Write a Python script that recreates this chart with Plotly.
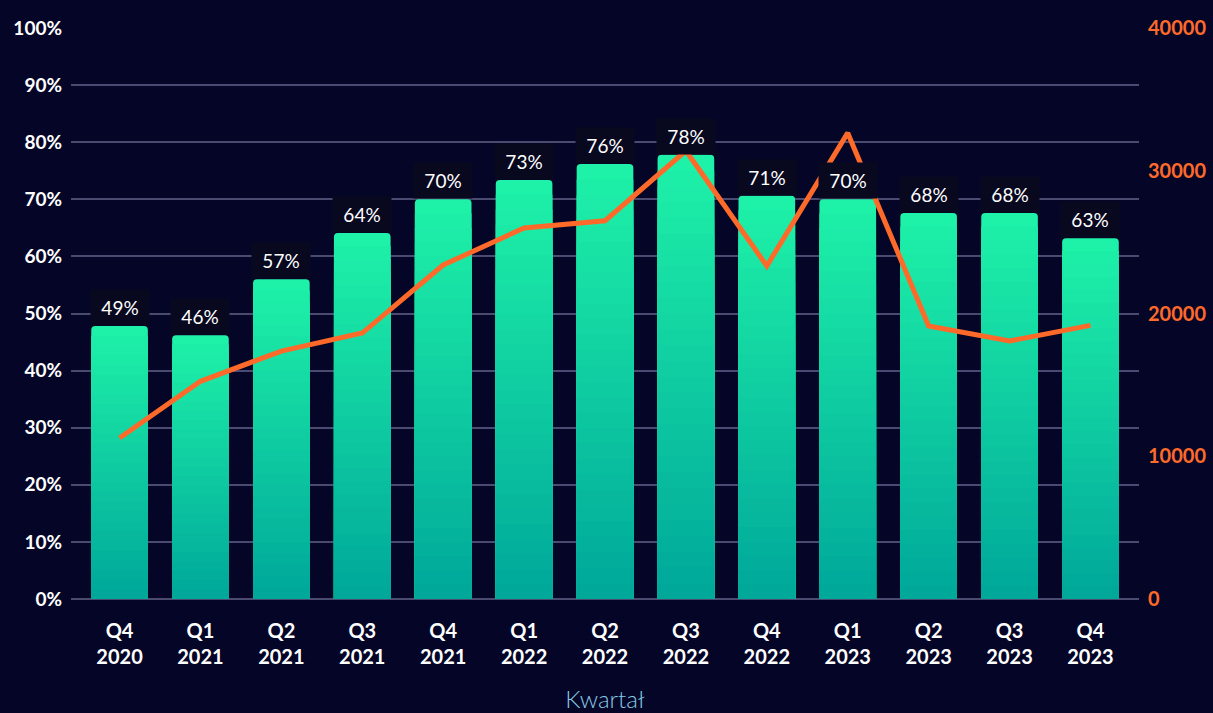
import plotly.graph_objects as go

quarters = ["Q4<br>2020", "Q1<br>2021", "Q2<br>2021", "Q3<br>2021", "Q4<br>2021", "Q1<br>2022",
            "Q2<br>2022", "Q3<br>2022", "Q4<br>2022", "Q1<br>2023", "Q2<br>2023", "Q3<br>2023", "Q4<br>2023"]
bar_values = [47.8, 46.2, 56.0, 64.1, 70.0, 73.4, 76.2, 77.8, 70.6, 70.0, 67.6, 67.6, 63.2]
bar_labels = ["49%", "46%", "57%", "64%", "70%", "73%", "76%", "78%", "71%", "70%", "68%", "68%", "63%"]
line_values = [11280, 15250, 17370, 18630, 23400, 25990, 26500, 31400, 23330, 32650, 19130, 18070, 19170]

x_idx = list(range(len(quarters)))

TOP = (30, 241, 168)
BOT = (0, 168, 154)
N = 28

fig = go.Figure()
for k in range(N):
    frac = (N - k) / N
    t = k / (N - 1)
    c = tuple(round(TOP[i] + (BOT[i] - TOP[i]) * t) for i in range(3))
    fig.add_trace(go.Bar(
        x=x_idx, y=[v * frac for v in bar_values],
        marker=dict(color=f"rgb{c}", line=dict(width=0)),
        width=0.7, showlegend=False, hoverinfo="skip",
    ))

fig.add_trace(go.Scatter(
    x=x_idx, y=line_values, yaxis="y2", mode="lines",
    line=dict(color="#ff6a2a", width=5), showlegend=False,
))

for i, (v, lab) in enumerate(zip(bar_values, bar_labels)):
    fig.add_annotation(
        x=i, y=v, xref="x", yref="y", text=lab, showarrow=False,
        yanchor="bottom", width=56, height=33, bgcolor="#08081f",
        font=dict(family="Lato", size=19, color="white"),
    )

fig.update_layout(
    width=1213, height=713,
    margin=dict(l=71, r=74, t=28, b=114),
    paper_bgcolor="#050627", plot_bgcolor="rgba(0,0,0,0)",
    barmode="overlay", barcornerradius=4,
    xaxis=dict(
        tickmode="array", tickvals=x_idx, ticktext=quarters,
        range=[-0.6, 12.6], showgrid=False, zeroline=False, automargin=False,
        tickfont=dict(family="Lato", size=20, color="white", weight="bold"),
        ticklen=0, ticks="", ticklabelstandoff=18,
        title=dict(text="Kwartał", font=dict(family="Lato", size=24, color="#86c9e4", weight=300), standoff=24),
    ),
    yaxis=dict(
        range=[0, 100], dtick=10, ticksuffix="%", automargin=False,
        showgrid=True, gridcolor="#4b4b72", gridwidth=2,
        zeroline=True, zerolinecolor="#4b4b72", zerolinewidth=2,
        tickfont=dict(family="Lato", size=19, color="white", weight="bold"),
        ticks="", ticklabelstandoff=8,
    ),
    yaxis2=dict(
        range=[0, 40000], dtick=10000, overlaying="y", side="right", automargin=False,
        showgrid=False, zeroline=False, tickformat="d",
        tickfont=dict(family="Lato", size=20, color="#ff6a2a", weight="bold"),
        ticks="", ticklabelstandoff=8,
    ),
)

fig.write_html("out.html", config={"displayModeBar": False},
               post_script="document.body.style.margin='0';document.body.style.background='#050627';document.body.style.overflow='hidden';")
